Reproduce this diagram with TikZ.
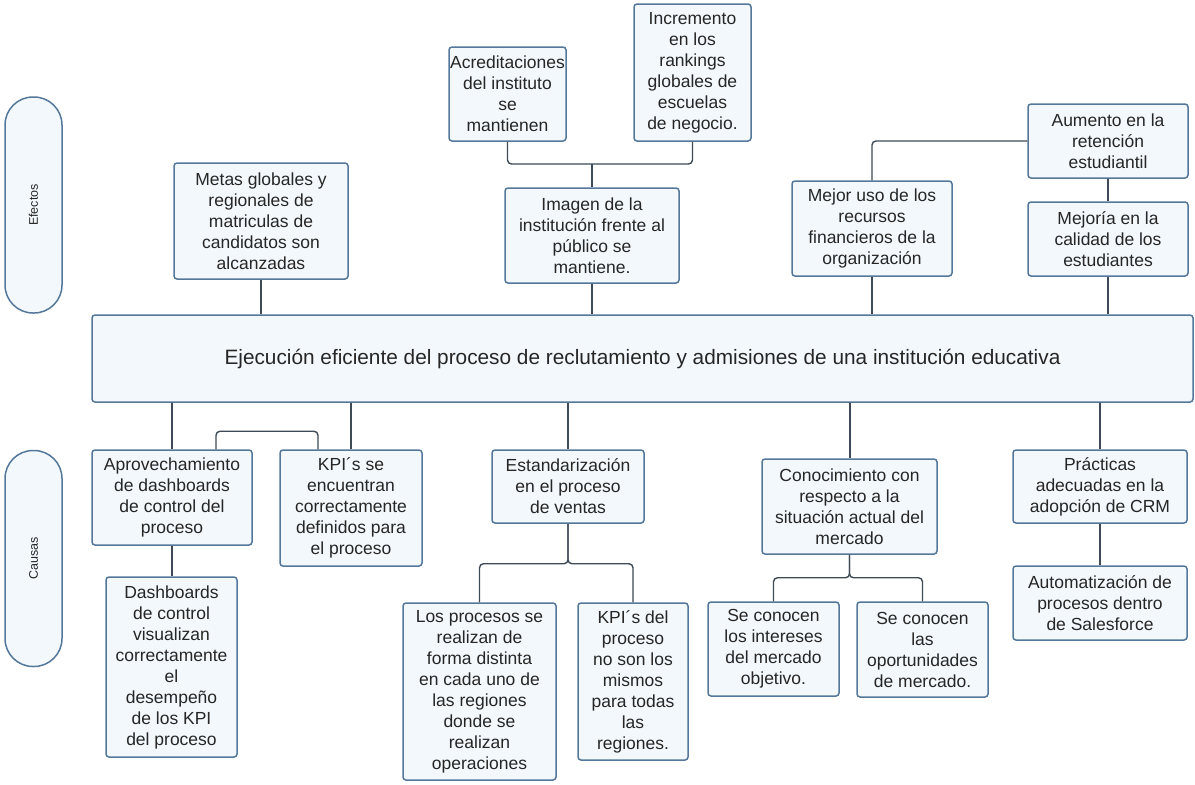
\documentclass[tikz,border=0pt]{standalone}
\usepackage{fontspec}
\setmainfont{Liberation Sans}
\definecolor{bfill}{HTML}{F3F8FC}
\definecolor{bdraw}{HTML}{55789A}
\definecolor{lcol}{HTML}{3E4A55}
\definecolor{tcol}{HTML}{262626}
\tikzset{
  box/.style={draw=bdraw, fill=bfill, line width=1.5pt, rounded corners=3pt,
    inner sep=0pt, align=center, text=tcol, font=\fontsize{17.5}{21}\selectfont},
  mainbox/.style={box, font=\fontsize{20.8}{25}\selectfont},
  pill/.style={draw=bdraw, fill=bfill, line width=1.5pt, rounded corners=28pt,
    inner sep=0pt, text=tcol, font=\fontsize{12.5}{15}\selectfont, rotate=90,
    minimum width=216pt, minimum height=57pt},
  conn/.style={draw=lcol, line width=1.4pt, rounded corners=4pt},
}
\newcommand{\bx}[7][box]{\node[#1, minimum width={(#5-#3)*1pt}, minimum height={(#6-#4)*1pt}] (#2) at ({(#3+#5)/2},{(#4+#6)/2}) {#7};}
\begin{document}
\begin{tikzpicture}[x=1pt,y=-1pt]
\useasboundingbox (0,0) rectangle (1195,785);
\node[pill] (efectos) at (33.5,205) {Efectos};
\node[pill] (causas) at (33.5,558.5) {Causas};

\bx{metas}{174}{163}{348}{279}{Metas globales y\\regionales de\\matriculas de\\candidatos son\\alcanzadas}
\bx{acred}{449}{47}{566}{141}{Acreditaciones\\del instituto\\se\\mantienen}
\bx{incr}{634}{4}{751}{141}{Incremento\\en los\\rankings\\globales de\\escuelas\\de negocio.}
\bx{imagen}{505}{188}{679}{283}{Imagen de la\\institución frente al\\público se\\mantiene.}
\bx{mejor}{792}{181}{952}{276}{Mejor uso de los\\recursos\\financieros de la\\organización}
\bx{aumento}{1028}{104}{1188}{178}{Aumento en la\\retención\\estudiantil}
\bx{mejoria}{1028}{202}{1188}{276}{Mejoría en la\\calidad de los\\estudiantes}

\bx[mainbox]{main}{92}{315}{1193}{402}{Ejecución eficiente del proceso de reclutamiento y admisiones de una institución educativa}

\bx{aprov}{92}{450}{252}{545}{Aprovechamiento\\de dashboards\\de control del\\proceso}
\bx{kpise}{280}{450}{422}{566}{KPI´s se\\encuentran\\correctamente\\definidos para\\el proceso}
\bx{dash}{106}{577}{237}{757}{Dashboards\\de control\\visualizan\\correctamente\\el\\desempeño\\de los KPI\\del proceso}
\bx{estand}{492}{450}{644}{523}{Estandarización\\en el proceso\\de ventas}
\bx{losproc}{403}{603}{556}{780}{Los procesos se\\realizan de\\forma distinta\\en cada uno de\\las regiones\\donde se\\realizan\\operaciones}
\bx{kpidel}{578}{603}{688}{760}{KPI´s del\\proceso\\no son los\\mismos\\para todas\\las\\regiones.}
\bx{conoc}{762}{459}{937}{554}{Conocimiento con\\respecto a la\\situación actual del\\mercado}
\bx{intereses}{708}{602}{839}{696}{Se conocen\\los intereses\\del mercado\\objetivo.}
\bx{oport}{857}{602}{988}{697}{Se conocen\\las\\oportunidades\\de mercado.}
\bx{practicas}{1013}{450}{1187}{523}{Prácticas\\adecuadas en la\\adopción de CRM}
\bx{automat}{1013}{566}{1187}{640}{Automatización de\\procesos dentro\\de Salesforce}

\coordinate (j1) at (0,164);
% effects
\draw[conn] (metas.south) -- (metas.south |- main.north);
\draw[conn] (acred.south) -- (acred.south |- j1) -| (incr.south);
\draw[conn] (imagen.north) -- (imagen.north |- j1);
\draw[conn] (imagen.south) -- (imagen.south |- main.north);
\draw[conn] (mejor.north) |- (aumento.west);
\draw[conn] (mejor.south) -- (mejor.south |- main.north);
\draw[conn] (aumento.south) -- (mejoria.north);
\draw[conn] (mejoria.south) -- (mejoria.south |- main.north);
% causes
\draw[conn] (main.south -| aprov.north) -- (aprov.north);
\draw[conn] (main.south -| kpise.north) -- (kpise.north);
\draw[conn] ([xshift=44pt]aprov.north) -- ++(0,-18) -| ([xshift=-33pt]kpise.north);
\draw[conn] (aprov.south) -- (aprov.south |- dash.north);
\draw[conn] (main.south -| estand.north) -- (estand.north);
\draw[conn] (estand.south) -- ++(0,40) -| (losproc.north);
\draw[conn] (estand.south) -- ++(0,40) -| (kpidel.north);
\draw[conn] ([xshift=0.5pt]main.south -| conoc.north) -- ([xshift=0.5pt]conoc.north);
\draw[conn] (conoc.south) -- ++(0,23) -| (intereses.north);
\draw[conn] (conoc.south) -- ++(0,23) -| (oport.north);
\draw[conn] (main.south -| practicas.north) -- (practicas.north);
\draw[conn] (practicas.south) -- (automat.north);
\end{tikzpicture}
\end{document}
